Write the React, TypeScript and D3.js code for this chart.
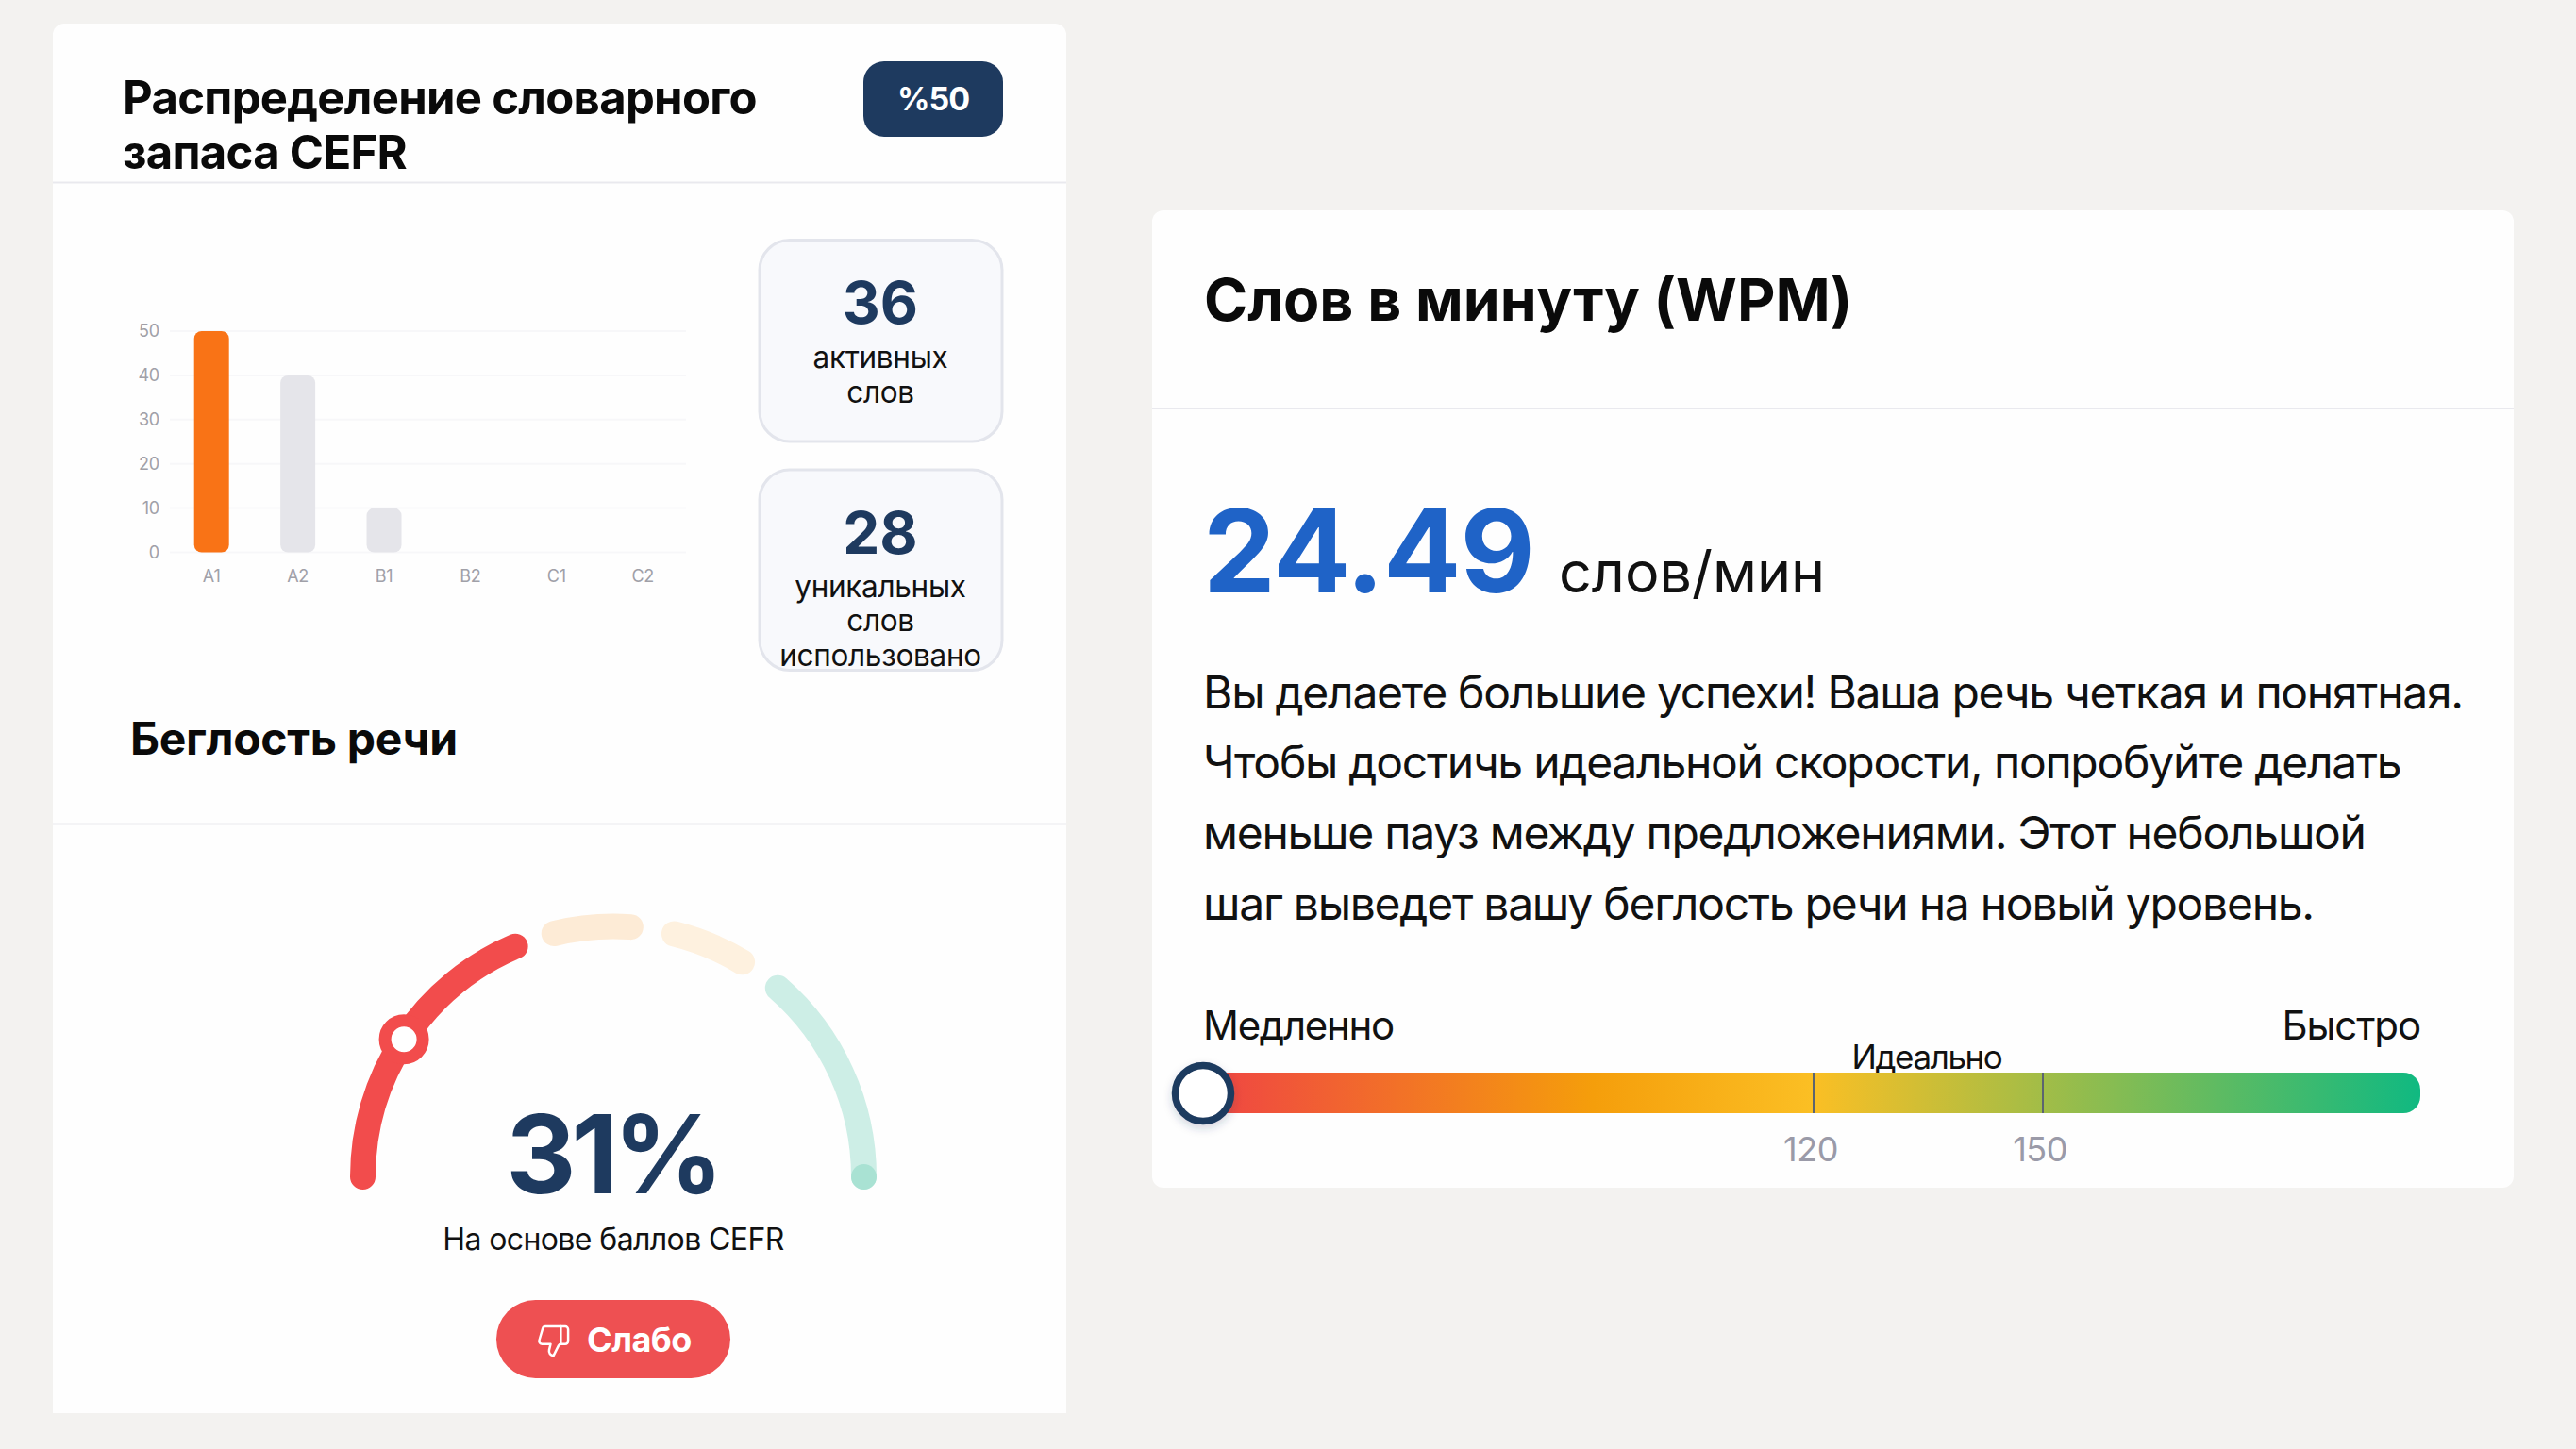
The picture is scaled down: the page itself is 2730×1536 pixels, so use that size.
import React from "react";
import * as d3 from "d3";

const cefrLevels = ["A1", "A2", "B1", "B2", "C1", "C2"];
const cefrValues = [50, 40, 10, 0, 0, 0];
const cefrTicks = [0, 10, 20, 30, 40, 50];
const cefrColors = ["#f97316", "#e5e5ea", "#e5e5ea", "#e5e5ea", "#e5e5ea", "#e5e5ea"];

const gaugeSegments = [
  { from: 0, to: 37.2, color: "#f24c4c" },
  { from: 42.4, to: 52.2, color: "#fdebd6" },
  { from: 57.8, to: 67.2, color: "#fef1df" },
  { from: 72.8, to: 100, color: "#cdeee6" },
];
const gaugeMarkerValue = 18.5;

const wpmThresholds = [120, 150];
const wpmValue = 24.49;
const paragraphLines = [
  "Вы делаете большие успехи! Ваша речь четкая и понятная.",
  "Чтобы достичь идеальной скорости, попробуйте делать",
  "меньше пауз между предложениями. Этот небольшой",
  "шаг выведет вашу беглость речи на новый уровень.",
];
const gradientStops = [
  { o: "0%", c: "#ef4444" },
  { o: "32%", c: "#f59e0b" },
  { o: "50%", c: "#fbbf24" },
  { o: "100%", c: "#10b981" },
];

const FONT = "Inter, 'Noto Sans', sans-serif";
const NAVY = "#1e3a5f";

function Stat({ y, h, num, numY, lines }: { y: number; h: number; num: string; numY: number; lines: [string, number][] }) {
  return (
    <g>
      <rect x={805} y={y} width={257} height={h} rx={32} fill="#f8f9fc" stroke="#e3e5ec" strokeWidth={3} />
      <text x={933} y={numY} textAnchor="middle" fontSize={62} fontWeight={700} fill={NAVY}>{num}</text>
      {lines.map(([t, ly]) => (
        <text key={t} x={933} y={ly} textAnchor="middle" fontSize={31.5} letterSpacing={-0.3} fill="#111">{t}</text>
      ))}
    </g>
  );
}

export default function App() {
  const x = d3.scaleBand<string>().domain(cefrLevels).range([178.5, 727]);
  const y = d3.scaleLinear().domain([0, 50]).range([585.5, 351]);
  const barW = 37;

  const cx = 650, cy = 1247.5, R = 265.5;
  const angle = d3.scaleLinear().domain([0, 100]).range([Math.PI, 2 * Math.PI]);
  const arcPath = (a: number, b: number) => {
    const p = d3.path();
    p.arc(cx, cy, R, angle(a), angle(b), false);
    return p.toString();
  };
  const mx = cx + R * Math.cos(angle(gaugeMarkerValue));
  const my = cy + R * Math.sin(angle(gaugeMarkerValue));

  const wx = d3.scaleLinear().domain([wpmValue, 120, 150]).range([1275, 1922, 2165]);
  const barLeft = 1276, barRight = 2565, barTop = 1137, barH = 43;

  return (
    <svg width={2730} height={1536} style={{ position: "absolute", left: 0, top: 0, fontFamily: FONT }}>
      <defs>
        <linearGradient id="wpmGrad" x1="0" x2="1" y1="0" y2="0">
          {gradientStops.map((s) => <stop key={s.o} offset={s.o} stopColor={s.c} />)}
        </linearGradient>
        <filter id="ms" x="-50%" y="-50%" width="200%" height="200%">
          <feDropShadow dx={0} dy={4} stdDeviation={5} floodColor="#1e3a5f" floodOpacity={0.2} />
        </filter>
      </defs>
      <rect width={2730} height={1536} fill="#f3f2f0" />

      {/* left card */}
      <path d="M56 37a12 12 0 0 1 12-12H1118a12 12 0 0 1 12 12V1498H56Z" fill="#fefefe" />
      <line x1={56} x2={1130} y1={193.5} y2={193.5} stroke="#e9e9ee" strokeWidth={2} />
      <text x={130} y={121} fontSize={49} fontWeight={700} letterSpacing={-0.7} fill="#0a0a0a">Распределение словарного</text>
      <text x={130} y={179} fontSize={49} fontWeight={700} letterSpacing={-0.7} fill="#0a0a0a">запаса CEFR</text>
      <rect x={915} y={65} width={148} height={80} rx={22} fill={NAVY} />
      <text x={989} y={117} textAnchor="middle" fontSize={34} fontWeight={700} letterSpacing={-1} fill="#fff">%50</text>

      {cefrTicks.map((t) => (
        <g key={t}>
          <line x1={180} x2={727} y1={y(t)} y2={y(t)} stroke="#f7f7f9" strokeWidth={2} />
          <text x={169} y={y(t) + 6} textAnchor="end" fontSize={18} letterSpacing={-0.2} fill="#a0a0a8">{t}</text>
        </g>
      ))}
      {cefrLevels.map((c, i) => {
        const bx = x(c)! + x.bandwidth() / 2;
        return (
          <g key={c}>
            {cefrValues[i] > 0 && (
              <rect x={bx - barW / 2} y={y(cefrValues[i])} width={barW} height={y(0) - y(cefrValues[i])} rx={8} fill={cefrColors[i]} />
            )}
            <text x={bx} y={617} textAnchor="middle" fontSize={18} letterSpacing={-0.2} fill="#a0a0a8">{c}</text>
          </g>
        );
      })}

      <Stat y={254.5} h={213.5} num="36" numY={343} lines={[["активных", 390], ["слов", 427]]} />
      <Stat y={498} h={212.5} num="28" numY={587} lines={[["уникальных", 633], ["слов", 669], ["использовано", 706]]} />

      <text x={138} y={800} fontSize={48} fontWeight={700} letterSpacing={-0.3} fill="#0a0a0a">Беглость речи</text>
      <line x1={56} x2={1130} y1={873.5} y2={873.5} stroke="#e9e9ee" strokeWidth={2} />

      {gaugeSegments.map((s) => (
        <path key={s.from} d={arcPath(s.from, s.to)} fill="none" stroke={s.color} strokeWidth={27} strokeLinecap="round" />
      ))}
      <circle cx={cx + R} cy={cy} r={13.5} fill="#a9e2d3" />
      <circle cx={mx} cy={my} r={20} fill="#fff" stroke="#f24c4c" strokeWidth={13} />

      <text x={649} y={1265} textAnchor="middle" fontSize={115} fontWeight={700} letterSpacing={-5} fill={NAVY}>31%</text>
      <text x={650} y={1325} textAnchor="middle" fontSize={32} letterSpacing={-0.6} fill="#111">На основе баллов CEFR</text>
      <rect x={526} y={1378} width={248} height={83} rx={41.5} fill="#ee5052" />
      <g transform="translate(568,1403) scale(1.55)" fill="none" stroke="#fff" strokeWidth={1.6} strokeLinecap="round" strokeLinejoin="round">
        <path d="M17 14V2" />
        <path d="M9 18.12 10 14H4.17a2 2 0 0 1-1.92-2.56l2.33-8A2 2 0 0 1 6.5 2H20a2 2 0 0 1 2 2v8a2 2 0 0 1-2 2h-2.76a2 2 0 0 0-1.79 1.11L12 22a3.13 3.13 0 0 1-3-3.88Z" />
      </g>
      <text x={622} y={1433} fontSize={36} fontWeight={700} letterSpacing={-0.5} fill="#fff">Слабо</text>

      {/* right card */}
      <rect x={1221} y={223} width={1443} height={1036} rx={12} fill="#fefefe" />
      <line x1={1221} x2={2664} y1={433} y2={433} stroke="#e9e9ee" strokeWidth={2} />
      <text x={1276} y={340} fontSize={62.5} fontWeight={700} fill="#0a0a0a">Слов в минуту (WPM)</text>
      <text x={1275} y={628} fontSize={122} fontWeight={700} letterSpacing={-1} fill="#1f63c7">{wpmValue}</text>
      <text x={1652} y={628} fontSize={61} fill="#111">слов/мин</text>
      {paragraphLines.map((l, i) => (
        <text key={i} x={1275} y={d3.scaleLinear().domain([0, 3]).range([750.5, 974.5])(i)} fontSize={48} letterSpacing={-1.26} fill="#111">{l}</text>
      ))}

      <text x={1275} y={1102} fontSize={42} letterSpacing={-1.3} fill="#111">Медленно</text>
      <text x={2565} y={1102} fontSize={42} letterSpacing={-1.1} textAnchor="end" fill="#111">Быстро</text>
      <text x={2042} y={1133} fontSize={35} letterSpacing={-1.4} textAnchor="middle" fill="#111">Идеально</text>
      <rect x={barLeft} y={barTop} width={barRight - barLeft} height={barH} rx={18} fill="url(#wpmGrad)" />
      {wpmThresholds.map((t) => (
        <g key={t}>
          <line x1={wx(t)} x2={wx(t)} y1={barTop} y2={barTop + barH} stroke="#5b6470" strokeWidth={2} />
          <text x={wx(t) - 3} y={1231} textAnchor="middle" fontSize={36} letterSpacing={-0.5} fill="#9a9aa8">{t}</text>
        </g>
      ))}
      <circle cx={wx(wpmValue)} cy={1159} r={29.5} fill="#fff" stroke={NAVY} strokeWidth={7.5} filter="url(#ms)" />
    </svg>
  );
}
